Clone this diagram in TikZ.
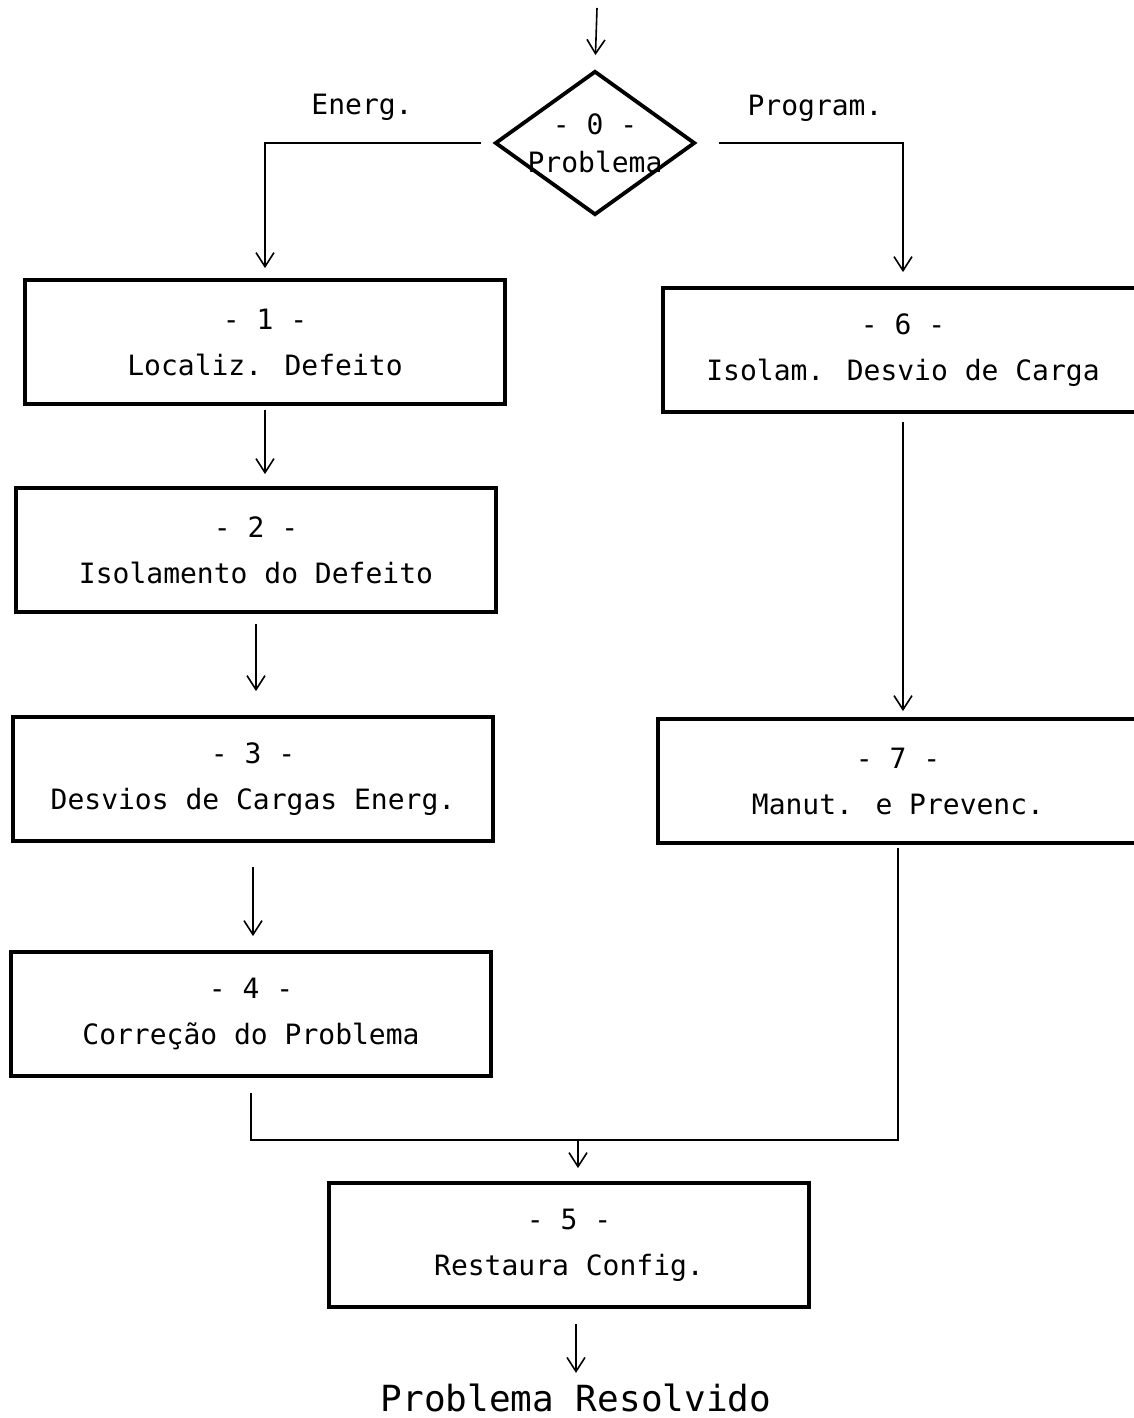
\documentclass[tikz,border=0pt]{standalone}
\usepackage{fontspec}
\setmainfont{DejaVu Sans Mono}
\usetikzlibrary{arrows.meta, positioning, shapes.geometric}

\begin{document}
\begin{tikzpicture}[
  x=0.5pt, y=-0.5pt,
  box/.style={draw, line width=1.9pt, minimum width=240pt, minimum height=62pt, align=center, font=\fontsize{14}{17}\selectfont},
  decision/.style={draw, diamond, line width=1.9pt, shape aspect=1.4, inner sep=-6pt, minimum width=100pt, minimum height=72pt, align=center, font=\fontsize{14}{17}\selectfont},
  tag/.style={font=\fontsize{14}{17}\selectfont},
  arrow/.style={-{Straight Barb[length=7pt, width=9pt]}, line width=0.8pt},
  link/.style={line width=0.8pt},
  ]
  \useasboundingbox (0,0) rectangle (1134,1418);

  % Entry and decision
  \coordinate (entry) at (597,8);
  \node[decision] (d0) at (595,143) {- 0 -\\[2pt]Problema};
  \node[tag] (emerg) at (362,107) {Energ.};
  \node[tag] (progr) at (815,108) {Program.};

  % Emergency branch
  \node[box] (b1) at (265,342) {- 1 -\\[6pt]Localiz. Defeito};
  \node[box] (b2) at (256,550) {- 2 -\\[6pt]Isolamento do Defeito};
  \node[box] (b3) at (253,779) {- 3 -\\[6pt]Desvios de Cargas Energ.};
  \node[box] (b4) at (251,1014) {- 4 -\\[6pt]Correção do Problema};

  % Programmed branch
  \node[box] (b6) at (903,350) {- 6 -\\[6pt]Isolam. Desvio de Carga};
  \node[box] (b7) at (898,781) {- 7 -\\[6pt]Manut. e Prevenc.};

  % Restore and end
  \coordinate (merge) at (578,1140);
  \node[box] (b5) at (569,1245) {- 5 -\\[6pt]Restaura Config.};
  \node[font=\fontsize{18}{22}\selectfont] (done) at (576,1398) {Problema Resolvido};

  % Arrows
  \draw[arrow, shorten >=7pt] (entry) -- (d0.north);
  \draw[arrow, shorten <=6pt, shorten >=5pt] (d0.west) -| (b1.north);
  \draw[arrow, shorten <=11pt, shorten >=7pt] (d0.east) -| (b6.north);
  \draw[arrow, shorten <=2pt, shorten >=6pt] (b1.south) -- (b1.south |- b2.north);
  \draw[arrow, shorten <=5pt, shorten >=12pt] (b2.south) -- (b2.south |- b3.north);
  \draw[arrow, shorten <=12pt, shorten >=7pt] (b3.south) -- (b3.south |- b4.north);
  \draw[arrow, shorten <=4pt, shorten >=3pt] (b6.south) -- (b6.south |- b7.north);

  % Merge into restore
  \draw[link, shorten <=7.5pt, shorten >=1.5pt] (b4.south) |- (merge) -| (b7.south);
  \draw[arrow, shorten >=6.5pt] (merge) -- (merge |- b5.north);
  \draw[arrow, shorten <=7.5pt, shorten >=2pt] (done.north |- b5.south) -- (done.north);

\end{tikzpicture}
\end{document}
